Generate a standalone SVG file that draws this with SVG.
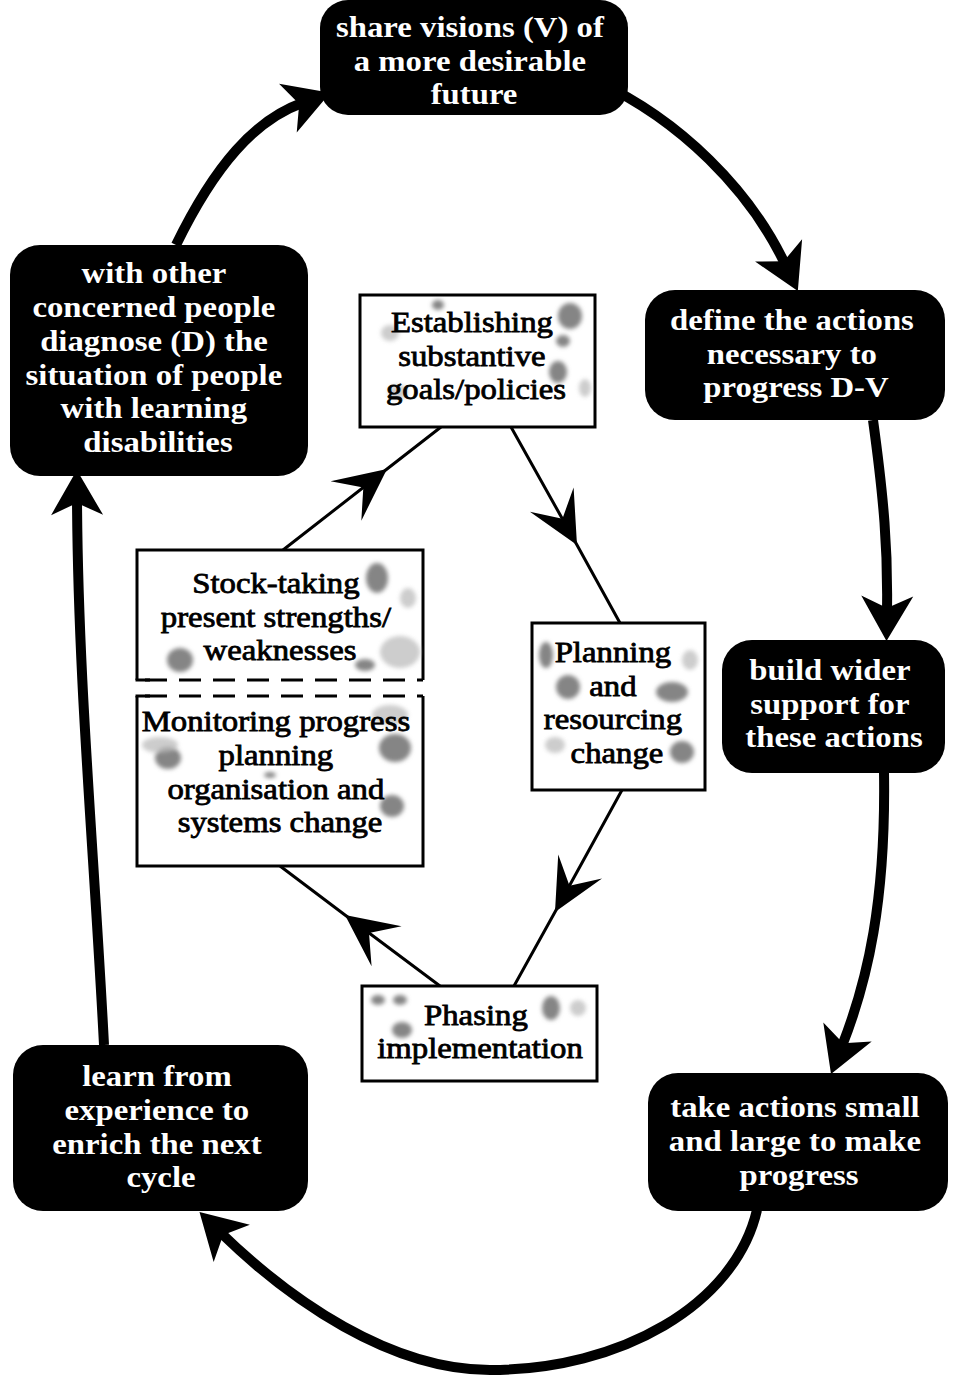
<svg xmlns="http://www.w3.org/2000/svg" width="953" height="1377" viewBox="0 0 953 1377">
  <defs>
    <style>
      .loop { fill: none; stroke: #000; stroke-width: 10; stroke-linecap: butt; }
      .link { fill: none; stroke: #000; stroke-width: 3; }
      .stage { fill: #000; }
      .task { fill: #fff; stroke: #000; stroke-width: 3; }
      .stageText { font-family: "Liberation Serif", "Times New Roman", serif; font-size: 29px; font-weight: bold; fill: #fff; text-anchor: middle; }
      .taskText { font-family: "Liberation Serif", "Times New Roman", serif; font-size: 29px; font-weight: normal; fill: #000; stroke: #000; stroke-width: 0.8; text-anchor: middle; }
      .dash { fill: none; stroke: #000; stroke-width: 3; stroke-dasharray: 22 12; }
      .blot { fill: #858585; filter: url(#soft); }
      .haze { fill: #b8b8b8; filter: url(#soft); opacity: 0.7; }
    </style>
    <filter id="soft" x="-50%" y="-50%" width="200%" height="200%">
      <feGaussianBlur stdDeviation="2"/>
    </filter>
    <!-- heavy swept arrowhead for the outer cycle; (0,0) sits at the line end -->
    <marker id="bigHead" markerUnits="userSpaceOnUse" orient="auto" overflow="visible" markerWidth="60" markerHeight="60">
      <path d="M30,0 L-15,-26 L-3,0 L-15,26 Z" fill="#000"/>
    </marker>
    <!-- dart arrowhead placed mid-way on the inner links; (0,0) is the tip -->
    <marker id="dart" markerUnits="userSpaceOnUse" orient="auto" overflow="visible" markerWidth="60" markerHeight="60">
      <path d="M0,0 L-52,-25 L-30,0 L-52,25 Z" fill="#000"/>
    </marker>
  </defs>

  <rect width="953" height="1377" fill="#fff"/>

  <!-- connectors -->
  <g id="connectors">
    <!-- outer cycle -->
    <path class="loop" d="M176,245 C215,165 255,120 302,103" marker-end="url(#bigHead)"/>
    <path class="loop" d="M598,82 C680,120 750,190 785,264" marker-end="url(#bigHead)"/>
    <path class="loop" d="M873,420 C884,500 888,550 887,611" marker-end="url(#bigHead)"/>
    <path class="loop" d="M884,772 C886,900 868,980 842,1046" marker-end="url(#bigHead)"/>
    <path class="loop" d="M757,1210 C735,1305 620,1370 490,1370 C390,1370 290,1300 221,1233" marker-end="url(#bigHead)"/>
    <path class="loop" d="M104,1045 C94,850 78,680 77,500" marker-end="url(#bigHead)"/>
    <!-- inner cycle -->
    <path class="link" d="M283,550 L387,469 L441,427" marker-mid="url(#dart)"/>
    <path class="link" d="M511,427 L577,545 L620,623" marker-mid="url(#dart)"/>
    <path class="link" d="M622,790 L555,912 L514,986" marker-mid="url(#dart)"/>
    <path class="link" d="M440,986 L345,915 L280,866" marker-mid="url(#dart)"/>
  </g>

  <!-- outer stages -->
  <g id="share-visions">
    <rect class="stage" x="320" y="0" width="308" height="115" rx="28"/>
    <text class="stageText" transform="translate(474 0) scale(1.13 1)">
      <tspan x="0" y="37">share visions (V) of</tspan>
      <tspan x="0" y="71">a more desirable</tspan>
      <tspan x="0" y="104">future</tspan>
    </text>
  </g>

  <g id="define-actions">
    <rect class="stage" x="645" y="290" width="300" height="130" rx="30"/>
    <text class="stageText" transform="translate(796 0) scale(1.13 1)">
      <tspan x="0" y="330">define the actions</tspan>
      <tspan x="0" y="364">necessary to</tspan>
      <tspan x="0" y="397">progress D-V</tspan>
    </text>
  </g>

  <g id="build-support">
    <rect class="stage" x="722" y="640" width="223" height="133" rx="30"/>
    <text class="stageText" transform="translate(834 0) scale(1.13 1)">
      <tspan x="0" y="680">build wider</tspan>
      <tspan x="0" y="714">support for</tspan>
      <tspan x="0" y="747">these actions</tspan>
    </text>
  </g>

  <g id="take-actions">
    <rect class="stage" x="648" y="1073" width="300" height="138" rx="30"/>
    <text class="stageText" transform="translate(799 0) scale(1.13 1)">
      <tspan x="0" y="1117">take actions small</tspan>
      <tspan x="0" y="1151">and large to make</tspan>
      <tspan x="0" y="1185">progress</tspan>
    </text>
  </g>

  <g id="learn">
    <rect class="stage" x="13" y="1045" width="295" height="166" rx="30"/>
    <text class="stageText" transform="translate(161 0) scale(1.13 1)">
      <tspan x="0" y="1086">learn from</tspan>
      <tspan x="0" y="1120">experience to</tspan>
      <tspan x="0" y="1154">enrich the next</tspan>
      <tspan x="0" y="1187">cycle</tspan>
    </text>
  </g>

  <g id="diagnose">
    <rect class="stage" x="10" y="245" width="298" height="231" rx="30"/>
    <text class="stageText" transform="translate(158 0) scale(1.13 1)">
      <tspan x="0" y="283">with other</tspan>
      <tspan x="0" y="317">concerned people</tspan>
      <tspan x="0" y="351">diagnose (D) the</tspan>
      <tspan x="0" y="385">situation of people</tspan>
      <tspan x="0" y="418">with learning</tspan>
      <tspan x="0" y="452">disabilities</tspan>
    </text>
  </g>

  <!-- inner tasks -->
  <g id="establishing">
    <rect class="task" x="360" y="295" width="235" height="132"/>
    <ellipse class="blot" cx="570" cy="316" rx="12" ry="13"/>
    <ellipse class="blot" cx="563" cy="341" rx="7" ry="6"/>
    <ellipse class="blot" cx="558" cy="372" rx="9" ry="11"/>
    <ellipse class="blot" cx="438" cy="305" rx="6" ry="5"/>
    <ellipse class="haze" cx="390" cy="333" rx="9" ry="8"/>
    <ellipse class="haze" cx="398" cy="392" rx="10" ry="7"/>
    <ellipse class="haze" cx="585" cy="388" rx="6" ry="9"/>
    <text class="taskText" transform="translate(476 0) scale(1.13 1)">
      <tspan x="0" y="332">Establishing</tspan>
      <tspan x="0" y="366">substantive</tspan>
      <tspan x="0" y="399">goals/policies</tspan>
    </text>
  </g>

  <g id="stock-taking">
    <path class="task" d="M137,680 L137,550 L423,550 L423,680" fill="#fff"/>
    <line class="dash" x1="145" y1="680" x2="423" y2="680"/>
    <line x1="135.5" y1="680" x2="150" y2="680" stroke="#000" stroke-width="3"/>
    <ellipse class="blot" cx="377" cy="578" rx="11" ry="15"/>
    <ellipse class="blot" cx="180" cy="660" rx="13" ry="12"/>
    <ellipse class="haze" cx="400" cy="652" rx="20" ry="16"/>
    <ellipse class="blot" cx="365" cy="665" rx="10" ry="6"/>
    <ellipse class="haze" cx="408" cy="598" rx="8" ry="10"/>
    <text class="taskText" transform="translate(280 0) scale(1.13 1)">
      <tspan x="0" y="593">Stock-taking</tspan>
      <tspan x="0" y="627">present strengths/</tspan>
      <tspan x="0" y="660">weaknesses</tspan>
    </text>
  </g>

  <g id="monitoring">
    <path class="task" d="M137,696 L137,866 L423,866 L423,696" fill="#fff"/>
    <line class="dash" x1="145" y1="696" x2="423" y2="696"/>
    <line x1="135.5" y1="696" x2="150" y2="696" stroke="#000" stroke-width="3"/>
    <ellipse class="blot" cx="168" cy="758" rx="13" ry="11"/>
    <ellipse class="haze" cx="160" cy="745" rx="18" ry="8"/>
    <ellipse class="blot" cx="395" cy="748" rx="16" ry="14"/>
    <ellipse class="haze" cx="390" cy="715" rx="18" ry="10"/>
    <ellipse class="blot" cx="392" cy="806" rx="12" ry="11"/>
    <ellipse class="blot" cx="270" cy="775" rx="6" ry="3"/>
    <text class="taskText" transform="translate(280 0) scale(1.13 1)">
      <tspan x="0" y="731">Monitoring progress</tspan>
      <tspan x="0" y="765">planning</tspan>
      <tspan x="0" y="799">organisation and</tspan>
      <tspan x="0" y="832">systems change</tspan>
    </text>
  </g>

  <g id="planning">
    <rect class="task" x="532" y="623" width="173" height="167"/>
    <ellipse class="blot" cx="546" cy="655" rx="7" ry="13"/>
    <ellipse class="blot" cx="568" cy="687" rx="12" ry="12"/>
    <ellipse class="blot" cx="672" cy="692" rx="16" ry="10"/>
    <ellipse class="blot" cx="682" cy="752" rx="12" ry="11"/>
    <ellipse class="haze" cx="690" cy="660" rx="8" ry="10"/>
    <ellipse class="haze" cx="555" cy="745" rx="10" ry="8"/>
    <text class="taskText" transform="translate(617 0) scale(1.13 1)">
      <tspan x="0" y="662">Planning</tspan>
      <tspan x="0" y="696">and</tspan>
      <tspan x="0" y="729">resourcing</tspan>
      <tspan x="0" y="763">change</tspan>
    </text>
  </g>

  <g id="phasing">
    <rect class="task" x="362" y="986" width="235" height="95"/>
    <ellipse class="blot" cx="378" cy="1000" rx="7" ry="5"/>
    <ellipse class="blot" cx="400" cy="1000" rx="7" ry="5"/>
    <ellipse class="blot" cx="402" cy="1030" rx="10" ry="8"/>
    <ellipse class="blot" cx="551" cy="1008" rx="9" ry="12"/>
    <ellipse class="haze" cx="578" cy="1008" rx="8" ry="8"/>
    <text class="taskText" transform="translate(480 0) scale(1.13 1)">
      <tspan x="0" y="1025">Phasing</tspan>
      <tspan x="0" y="1058">implementation</tspan>
    </text>
  </g>
</svg>
